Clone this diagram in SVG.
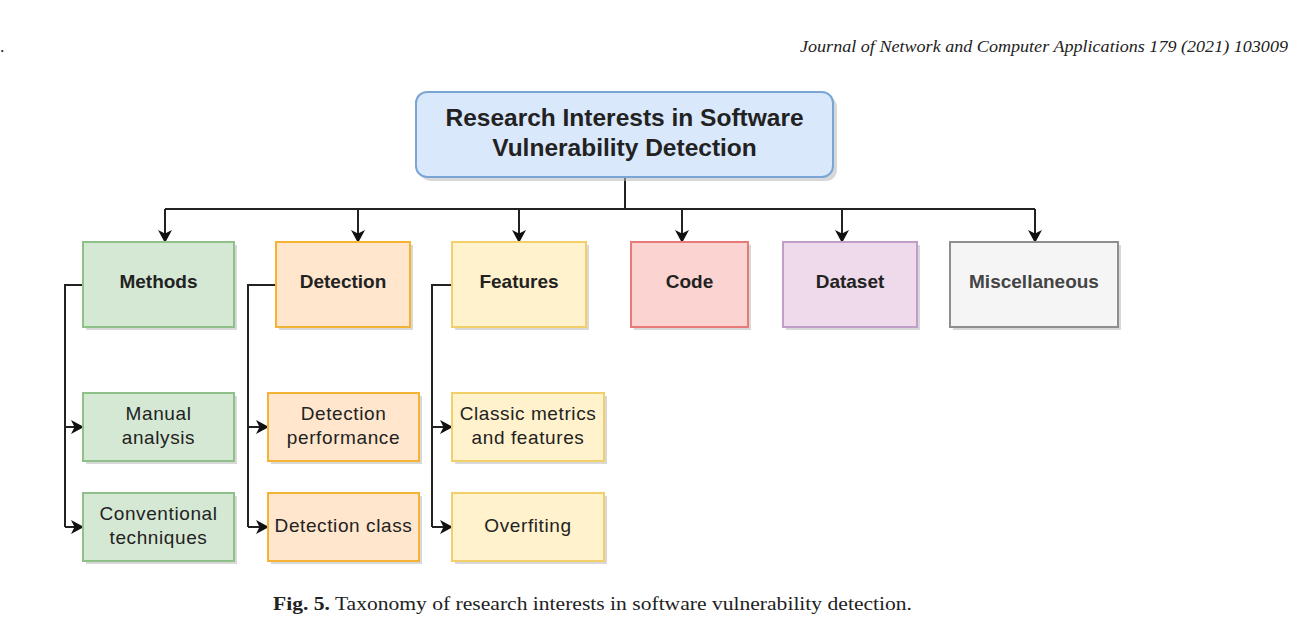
<svg xmlns="http://www.w3.org/2000/svg" width="1314" height="641" viewBox="0 0 1314 641">
<style>
.sh{fill:#b8b8b8;opacity:0.55}
.t{font-family:"Liberation Sans",Arial,sans-serif;font-size:19px;fill:#222;text-anchor:middle}
.b{font-weight:bold}
.n{letter-spacing:0.6px}
.r{font-size:24.5px}
.c{fill:none;stroke:#222;stroke-width:2}
.hdr{font-family:"Liberation Serif","Times New Roman",serif;font-size:17.5px;font-style:italic;fill:#222}
.cap{font-family:"Liberation Serif","Times New Roman",serif;font-size:19px;fill:#222}
</style>
<defs>
<marker id="ah" markerWidth="13" markerHeight="14" refX="12" refY="7" orient="auto" markerUnits="userSpaceOnUse">
<path d="M0,0 L13,7 L0,14 L3.5,7 Z" fill="#111"/>
</marker>
</defs>
<rect width="1314" height="641" fill="#fff"/>
<text x="0" y="52" class="hdr" style="font-style:normal">.</text>
<text x="1288" y="52" class="hdr" text-anchor="end" textLength="488" lengthAdjust="spacingAndGlyphs">Journal of Network and Computer Applications 179 (2021) 103009</text>

<g id="connectors">
<path class="c" d="M625,177 V209 M165,209 H1035"/>
<path class="c" marker-end="url(#ah)" d="M165,209 V242"/>
<path class="c" marker-end="url(#ah)" d="M358,209 V242"/>
<path class="c" marker-end="url(#ah)" d="M519,209 V242"/>
<path class="c" marker-end="url(#ah)" d="M682,209 V242"/>
<path class="c" marker-end="url(#ah)" d="M842,209 V242"/>
<path class="c" marker-end="url(#ah)" d="M1035,209 V242"/>
<path class="c" d="M83,285 H65 V527"/>
<path class="c" marker-end="url(#ah)" d="M65,427 H83"/>
<path class="c" marker-end="url(#ah)" d="M65,527 H83"/>
<path class="c" d="M276,285 H248 V527"/>
<path class="c" marker-end="url(#ah)" d="M248,427 H268"/>
<path class="c" marker-end="url(#ah)" d="M248,527 H268"/>
<path class="c" d="M452,285 H432 V527"/>
<path class="c" marker-end="url(#ah)" d="M432,427 H452"/>
<path class="c" marker-end="url(#ah)" d="M432,527 H452"/>
</g>

<g id="root">
<rect class="sh" x="420" y="96" width="417" height="85" rx="11"/>
<rect x="416" y="92" width="417" height="85" rx="11" fill="#dae8fc" stroke="#7aa6d6" stroke-width="2"/>
<text class="t b r" x="624.5" y="126">Research Interests in Software</text>
<text class="t b r" x="624.5" y="156">Vulnerability Detection</text>
</g>

<g id="methods">
<rect class="sh" x="86" y="245" width="151" height="85"/>
<rect x="83" y="242" width="151" height="85" fill="#d5e8d4" stroke="#90c08a" stroke-width="2"/>
<text class="t b" x="158.5" y="288">Methods</text>
</g>
<g id="detection">
<rect class="sh" x="279" y="245" width="134" height="85"/>
<rect x="276" y="242" width="134" height="85" fill="#ffe6cc" stroke="#f5b335" stroke-width="2"/>
<text class="t b" x="343" y="288">Detection</text>
</g>
<g id="features">
<rect class="sh" x="455" y="245" width="134" height="85"/>
<rect x="452" y="242" width="134" height="85" fill="#fff2cc" stroke="#f3cf6a" stroke-width="2"/>
<text class="t b" x="519" y="288">Features</text>
</g>
<g id="code">
<rect class="sh" x="634" y="245" width="117" height="85"/>
<rect x="631" y="242" width="117" height="85" fill="#fbd3d0" stroke="#e87a78" stroke-width="2"/>
<text class="t b" x="689.5" y="288">Code</text>
</g>
<g id="dataset">
<rect class="sh" x="786" y="245" width="134" height="85"/>
<rect x="783" y="242" width="134" height="85" fill="#eedaea" stroke="#c09ec8" stroke-width="2"/>
<text class="t b" x="850" y="288">Dataset</text>
</g>
<g id="misc">
<rect class="sh" x="953" y="245" width="168" height="85"/>
<rect x="950" y="242" width="168" height="85" fill="#f5f5f5" stroke="#8e8e8e" stroke-width="2"/>
<text class="t b" x="1034" y="288" style="fill:#444">Miscellaneous</text>
</g>

<g id="manual">
<rect class="sh" x="86" y="396" width="151" height="68"/>
<rect x="83" y="393" width="151" height="68" fill="#d5e8d4" stroke="#90c08a" stroke-width="2"/>
<text class="t n" x="158.5" y="420">Manual</text>
<text class="t n" x="158.5" y="444">analysis</text>
</g>
<g id="conventional">
<rect class="sh" x="86" y="496" width="151" height="68"/>
<rect x="83" y="493" width="151" height="68" fill="#d5e8d4" stroke="#90c08a" stroke-width="2"/>
<text class="t n" x="158.5" y="520">Conventional</text>
<text class="t n" x="158.5" y="544">techniques</text>
</g>
<g id="detperf">
<rect class="sh" x="271" y="396" width="151" height="68"/>
<rect x="268" y="393" width="151" height="68" fill="#ffe6cc" stroke="#f5b335" stroke-width="2"/>
<text class="t n" x="343.5" y="420">Detection</text>
<text class="t n" x="343.5" y="444">performance</text>
</g>
<g id="detclass">
<rect class="sh" x="271" y="496" width="151" height="68"/>
<rect x="268" y="493" width="151" height="68" fill="#ffe6cc" stroke="#f5b335" stroke-width="2"/>
<text class="t n" x="343.5" y="532">Detection class</text>
</g>
<g id="classic">
<rect class="sh" x="455" y="396" width="152" height="68"/>
<rect x="452" y="393" width="152" height="68" fill="#fff2cc" stroke="#f3cf6a" stroke-width="2"/>
<text class="t n" x="528" y="420">Classic metrics</text>
<text class="t n" x="528" y="444">and features</text>
</g>
<g id="overfit">
<rect class="sh" x="455" y="496" width="152" height="68"/>
<rect x="452" y="493" width="152" height="68" fill="#fff2cc" stroke="#f3cf6a" stroke-width="2"/>
<text class="t n" x="528" y="532">Overfiting</text>
</g>

<text class="cap" x="273" y="610" textLength="639" lengthAdjust="spacingAndGlyphs"><tspan font-weight="bold">Fig. 5.</tspan>  Taxonomy of research interests in software vulnerability detection.</text>
</svg>
